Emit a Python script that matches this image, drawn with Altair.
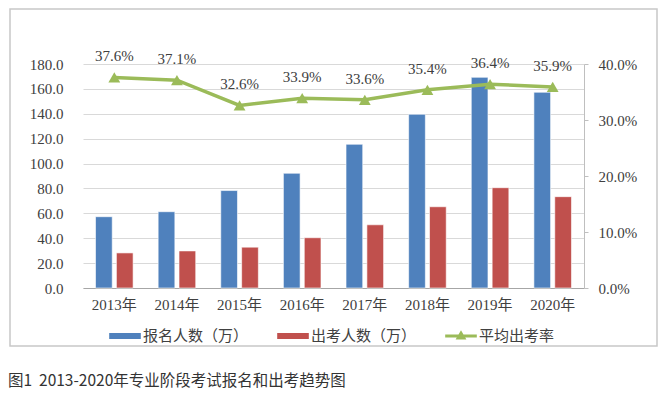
import altair as alt
import pandas as pd

years = ["2013年", "2014年", "2015年", "2016年", "2017年", "2018年", "2019年", "2020年"]
registered = [57.3, 61.3, 78.3, 92.2, 115.5, 139.6, 169.3, 157.3]
attended = [28.2, 29.8, 32.8, 40.4, 50.8, 65.3, 80.6, 73.4]
rates = [37.6, 37.1, 32.6, 33.9, 33.6, 35.4, 36.4, 35.9]
series_names = ["报名人数（万）", "出考人数（万）"]
legend_items = ["报名人数（万）", "出考人数（万）", "平均出考率"]
colors = ["#4F81BD", "#C0504D", "#9BBB59"]
left_ticks = [0, 20, 40, 60, 80, 100, 120, 140, 160, 180]
right_ticks = [0, 10, 20, 30, 40]
caption = "图1\u00a0\u00a02013-2020年专业阶段考试报名和出考趋势图"

SERIF = "Liberation Serif, Noto Sans CJK SC"
SANS = "Noto Sans CJK SC"

bar_df = pd.DataFrame(
    [{"year": y, "series": series_names[0], "value": v} for y, v in zip(years, registered)]
    + [{"year": y, "series": series_names[1], "value": v} for y, v in zip(years, attended)]
)
rate_df = pd.DataFrame({"year": years, "rate": rates})

X = alt.X(
    "year:N",
    sort=years,
    scale=alt.Scale(domain=years, paddingInner=0.4, paddingOuter=0.2),
    axis=alt.Axis(
        title=None, labelAngle=0, ticks=False, domainColor="#A6A6A6", domainWidth=1,
        labelFont=SERIF, labelFontSize=15, labelColor="#404040", labelPadding=9,
    ),
)

bars = alt.Chart(bar_df).mark_bar(stroke="white", strokeWidth=0.6).encode(
    x=X,
    xOffset=alt.XOffset("series:N", sort=series_names,
                        scale=alt.Scale(domain=series_names, paddingInner=0.2, paddingOuter=0)),
    y=alt.Y(
        "value:Q",
        scale=alt.Scale(domain=[0, 180], nice=False),
        axis=alt.Axis(
            title=None, values=left_ticks, format=".1f", orient="left", domain=False, ticks=False,
            grid=True, gridColor="#D9D9D9", gridWidth=1,
            labelFont=SERIF, labelFontSize=15, labelColor="#404040", labelPadding=20,
        ),
    ),
    color=alt.Color("series:N", scale=alt.Scale(domain=series_names, range=colors[:2]), legend=None),
)

Y2 = alt.Y(
    "rate:Q",
    scale=alt.Scale(domain=[0, 40], nice=False),
    axis=alt.Axis(
        title=None, values=right_ticks, orient="right", labelExpr="format(datum.value, '.1f') + '%'",
        grid=False, domain=True, domainColor="#BFBFBF", ticks=True, tickSize=4, tickColor="#BFBFBF",
        labelFont=SERIF, labelFontSize=15, labelColor="#404040", labelPadding=10,
    ),
)

line = alt.Chart(rate_df).mark_line(color=colors[2], strokeWidth=3.5).encode(x=X, y=Y2)
points = alt.Chart(rate_df).mark_point(shape="triangle-up", filled=True, size=140,
                                       color=colors[2], opacity=1).encode(x=X, y=Y2)
labels = alt.Chart(rate_df).transform_calculate(
    label="format(datum.rate, '.1f') + '%'"
).mark_text(dy=-21, font=SERIF, fontSize=15, color="#404040").encode(x=X, y=Y2, text="label:N")

rate_layer = alt.layer(line, points, labels)

frame = alt.Chart(pd.DataFrame({"k": [0]})).mark_rect(
    fillOpacity=0, stroke="#C8C8C8", strokeWidth=1.5
).encode(x=alt.value(-73), x2=alt.value(574), y=alt.value(-55), y2=alt.value(282))

legend_props = dict(
    title=None, orient="none", legendX=26, legendY=256, direction="horizontal",
    symbolSize=1000, symbolStrokeWidth=0, symbolOpacity=1,
    labelFont=SERIF, labelFontSize=15, labelColor="#404040",
    labelOffset=2, columnPadding=28, padding=0,
)

legend_layer = alt.Chart(pd.DataFrame({"item": legend_items})).mark_point(
    filled=True, opacity=0
).encode(
    x=alt.value(0), y=alt.value(0),
    color=alt.Color("item:N", sort=legend_items,
                    scale=alt.Scale(domain=legend_items, range=colors),
                    legend=alt.Legend(**legend_props)),
    shape=alt.Shape("item:N", sort=legend_items,
                    scale=alt.Scale(domain=legend_items, range=[
                        "M-1,-0.19H1V0.19H-1Z",
                        "M-1,-0.19H1V0.19H-1Z",
                        "M-1,-0.09H1V0.09H-1Z M-0.34,0.22L0,-0.36L0.34,0.22Z",
                    ]),
                    legend=alt.Legend(**legend_props)),
)

caption_layer = alt.Chart(pd.DataFrame({"t": [caption]})).mark_text(
    align="left", baseline="middle", font=SANS, fontSize=15.5, color="#333333"
).encode(x=alt.value(-75), y=alt.value(317), text="t:N")

chart = alt.layer(frame, bars, rate_layer, legend_layer, caption_layer).resolve_scale(
    y="independent", color="independent", shape="independent"
).properties(
    width=501, height=224,
    autosize=alt.AutoSizeParams(type="none"),
    padding={"left": 75, "top": 56, "right": 78, "bottom": 101},
).configure_view(strokeWidth=0)

chart.save("out.html", embed_options={"renderer": "svg", "actions": False})
